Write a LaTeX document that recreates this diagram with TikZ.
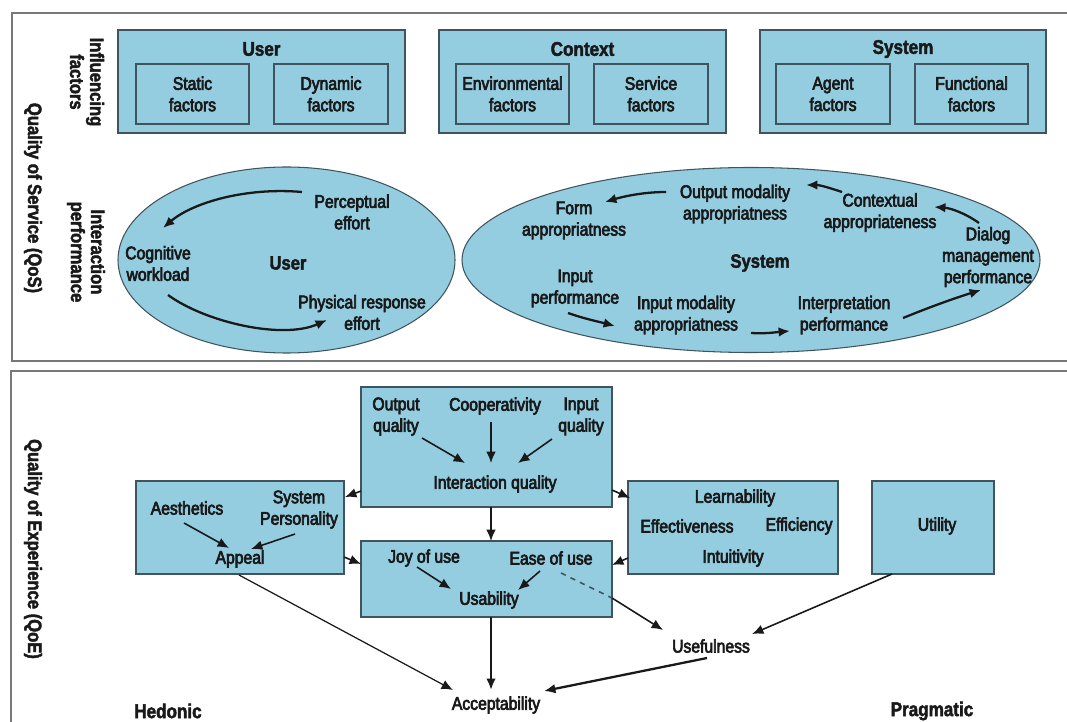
\documentclass[tikz,border=0pt]{standalone}
\usepackage{fontspec}
\setmainfont{Liberation Sans}[FakeStretch=0.86]
\newfontfamily\medf{Liberation Sans}[FakeStretch=0.86,FakeBold=3.5]
\newfontfamily\sidef{Liberation Sans Bold}[FakeStretch=0.86,FakeBold=2.2]
\usetikzlibrary{arrows.meta,calc,shapes.geometric}
\definecolor{boxfill}{RGB}{148,205,224}
\definecolor{boxline}{RGB}{64,84,94}
\definecolor{panelline}{RGB}{120,120,120}
\definecolor{txt}{RGB}{25,25,25}
\begin{document}
\begin{tikzpicture}[x=0.02cm,y=-0.02cm,
  box/.style={draw=boxline,fill=boxfill,line width=0.7pt},
  rect/.style n args={2}{minimum width=#1*0.02cm,minimum height=#2*0.02cm},
  t/.style={font=\medf\fontsize{10.4}{12.2}\selectfont,align=center,text=txt,inner sep=0pt},
  tb/.style={font=\sidef\fontsize{11.3}{13}\selectfont,align=center,text=txt,inner sep=0pt},
  side/.style={font=\sidef\fontsize{11}{11.4}\selectfont,align=center,rotate=-90,text=txt,inner sep=0pt},
  arr/.style={-{Latex[length=6.5pt,width=5.5pt]},line width=0.9pt,draw=txt},
  carr/.style={arr,line width=1.3pt},
  panel/.style={draw=panelline,line width=1.1pt}
]
\useasboundingbox (0,0) rectangle (1067,722);
\fill[white] (0,0) rectangle (1067,722);
% panels
\draw[panel] (1070,13) -- (12,13) -- (12,361) -- (1070,361);
\draw[panel] (1070,371) -- (11,371) -- (11,725);

% side labels
\node[side] (qos) at (33,198) {Quality of Service (QoS)};
\node[side] (inf) at (87,82) {Influencing\\factors};
\node[side] (ip) at (86,252) {Interaction\\performance};
\node[side] (qoe) at (33,549) {Quality of Experience (QoE)};

% influencing factor boxes
\node[box,rect={287}{103}] (userbox) at (261.5,81.5) {};
\node[tb] (userttl) at (261.5,49) {User};
\node[box,rect={113}{60},t] (static) at (192.5,94) {Static\\factors};
\node[box,rect={114}{60},t] (dynamic) at (331,94) {Dynamic\\factors};

\node[box,rect={287}{103}] (ctxbox) at (582.5,81.5) {};
\node[tb] (ctxttl) at (582.5,49) {Context};
\node[box,rect={113}{60},t] (env) at (512.5,94) {Environmental\\factors};
\node[box,rect={114}{60},t] (serv) at (651,94) {Service\\factors};

\node[box,rect={286}{103}] (sysbox) at (903,81.5) {};
\node[tb] (systtl) at (903,49) {System};
\node[box,rect={114}{60},t] (agent) at (833,94) {Agent\\factors};
\node[box,rect={113}{60},t] (func) at (971.5,94) {Functional\\factors};

% interaction performance ellipses
\node[ellipse,draw=boxline,fill=boxfill,line width=0.6pt,rect={337}{186},inner sep=0pt] (uell) at (286.5,260) {};
\node[ellipse,draw=boxline,fill=boxfill,line width=0.6pt,rect={578}{185},inner sep=0pt] (sell) at (751,260) {};

\node[t] (percept) at (352,212) {Perceptual\\effort};
\node[t] (cogn) at (158,263.5) {Cognitive\\workload};
\node[tb,font=\sidef\fontsize{11}{13}\selectfont] (uelltxt) at (288,263) {User};
\node[t] (phys) at (362,312.5) {Physical response\\effort};

\node[t] (form) at (574,220.5) {Form\\appropriatness};
\node[t] (outmod) at (735,204) {Output modality\\appropriatness};
\node[t] (ctxapp) at (880,212.5) {Contextual\\appropriateness};
\node[t] (dialog) at (988,257) {Dialog\\management\\performance};
\node[tb,font=\sidef\fontsize{11}{13}\selectfont] (selltxt) at (760,263) {System};
\node[t] (inperf) at (575,288.5) {Input\\performance};
\node[t] (inmod) at (686,315) {Input modality\\appropriatness};
\node[t] (interp) at (844,315) {Interpretation\\performance};

% ellipse arrows
\coordinate (p1) at (302,192); \coordinate (c1) at (163,228);
\coordinate (c2) at (168,295); \coordinate (ph2) at (327,320);
\draw[carr] (p1) .. controls (245,187) and (192,203) .. (c1);
\draw[carr] (c2) .. controls (205,322) and (282,340) .. (ph2);

\coordinate (o1) at (666,192); \coordinate (f1) at (605,202);
\coordinate (x1) at (842,192); \coordinate (o2) at (806,185);
\coordinate (d1) at (979,223); \coordinate (x2) at (934,207);
\coordinate (i1) at (568,313); \coordinate (m1) at (615,326);
\coordinate (m2) at (751,333); \coordinate (r1) at (790,331);
\coordinate (r2) at (903,318); \coordinate (d2) at (981,290);
\draw[carr] (o1) .. controls (645,192) and (625,196) .. (f1);
\draw[carr] (x1) .. controls (830,188) and (820,185) .. (o2);
\draw[carr] (d1) .. controls (965,213) and (950,208) .. (x2);
\draw[carr] (i1) .. controls (585,319) and (600,322) .. (m1);
\draw[carr] (m2) .. controls (765,334) and (778,332) .. (r1);
\draw[carr] (r2) .. controls (930,307) and (955,298) .. (d2);

% QoE boxes
\node[box,rect={251}{120}] (iq) at (486.5,447) {};
\node[box,rect={208}{93}] (appealbox) at (240,527.5) {};
\node[box,rect={251}{76}] (usabbox) at (486.5,579) {};
\node[box,rect={210}{93}] (learnbox) at (733,527.5) {};
\node[box,rect={122}{93}] (utilbox) at (933,527.5) {};

\node[t] (outq) at (396,416.5) {Output\\quality};
\node[t] (coop) at (495,406) {Cooperativity};
\node[t] (inq) at (581,416.5) {Input\\quality};
\node[t] (iqt) at (495,484) {Interaction quality};
\node[t] (aes) at (187,508) {Aesthetics};
\node[t] (sysp) at (299,509.5) {System\\Personality};
\node[t] (app) at (240,559) {Appeal};
\node[t] (joy) at (424,558) {Joy of use};
\node[t] (ease) at (551,558) {Ease of use};
\node[t] (usab) at (489,600) {Usability};
\node[t] (learn) at (735,498) {Learnability};
\node[t] (eff) at (687,526) {Effectiveness};
\node[t] (effi) at (799,526) {Efficiency};
\node[t] (intu) at (733,558) {Intuitivity};
\node[t] (util) at (937,526) {Utility};
\node[t] (usef) at (711,646) {Usefulness};
\node[t] (acc) at (496,705) {Acceptability};
\node[tb] (hed) at (168,711) {Hedonic};
\node[tb] (prag) at (932,711) {Pragmatic};

% QoE arrows
\coordinate (a1) at (422,438); \coordinate (a1e) at (465,463);
\coordinate (a2) at (491,422); \coordinate (a2e) at (491,463);
\coordinate (a3) at (552,439); \coordinate (a3e) at (518,463);
\draw[arr] (a1) -- (a1e);
\draw[arr] (a2) -- (a2e);
\draw[arr] (a3) -- (a3e);
\coordinate (b1) at (361,491); \coordinate (b1e) at (345,497);
\draw[arr] (b1) -- (b1e);
\coordinate (b2) at (491,507); \coordinate (b2e) at (491,541);
\draw[arr] (b2) -- (b2e);
\coordinate (b3) at (612,490); \coordinate (b3e) at (630,498);
\draw[arr] (b3) -- (b3e);
\coordinate (e1) at (184,523); \coordinate (e1e) at (229,548);
\coordinate (e2) at (295,534); \coordinate (e2e) at (251,549);
\draw[arr] (e1) -- (e1e);
\draw[arr] (e2) -- (e2e);
\coordinate (b4) at (344,557); \coordinate (b4e) at (361,564);
\draw[arr] (b4) -- (b4e);
\coordinate (b5) at (628,558); \coordinate (b5e) at (612,565);
\draw[arr] (b5) -- (b5e);
\coordinate (j1) at (417,567); \coordinate (j1e) at (451,589);
\coordinate (j2) at (540,571); \coordinate (j2e) at (518,590);
\draw[arr] (j1) -- (j1e);
\draw[arr] (j2) -- (j2e);
\coordinate (ds) at (561,573); \coordinate (dm) at (612,598);
\draw[dashed,line width=0.9pt,draw=boxline] (ds) -- (dm);
\coordinate (uf1) at (663,630);
\draw[arr] (dm) -- (uf1);
\coordinate (ut) at (892,574); \coordinate (uf2) at (752,634);
\draw[arr] (ut) -- (uf2);
\coordinate (ap) at (239,575); \coordinate (ac1) at (453,690);
\draw[arr,line width=0.7pt] (ap) -- (ac1);
\coordinate (us) at (491,617); \coordinate (ac2) at (491,690);
\draw[arr,line width=1.3pt] (us) -- (ac2);
\coordinate (uf3) at (707,658); \coordinate (ac3) at (544,691);
\draw[arr,line width=1.3pt] (uf3) -- (ac3);
\end{tikzpicture}
\end{document}
